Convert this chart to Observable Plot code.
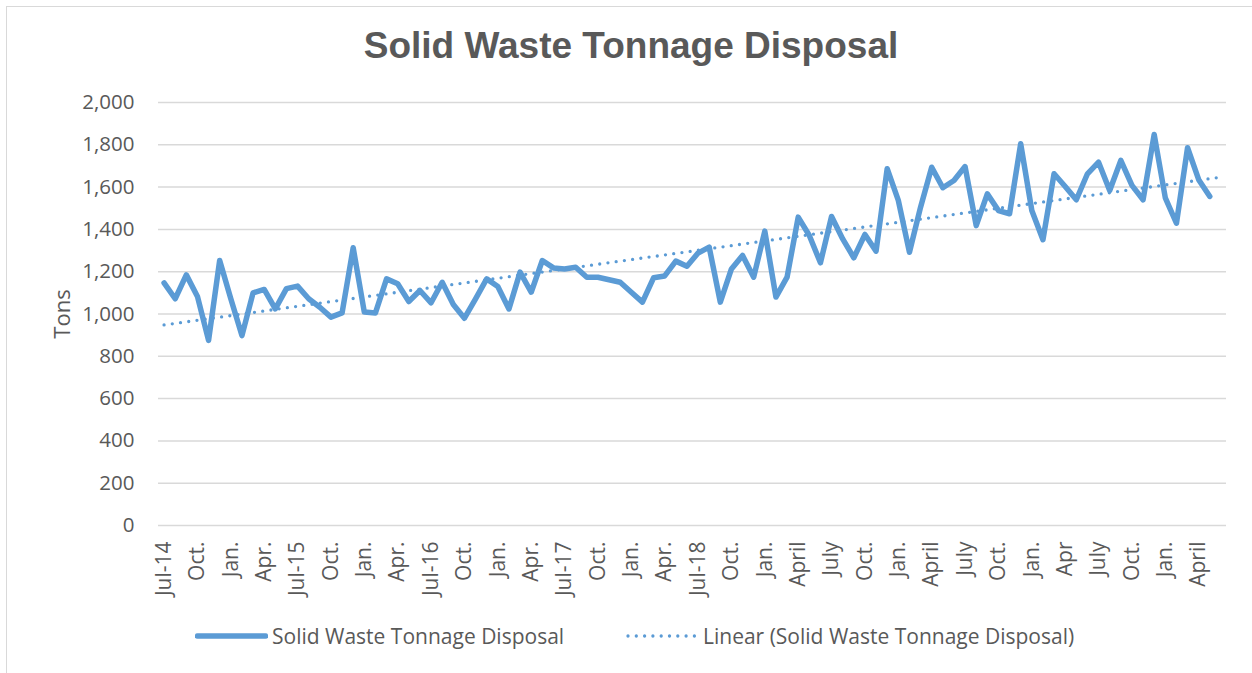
<!DOCTYPE html>
<html>
<head>
<meta charset="utf-8">
<script src="https://cdn.jsdelivr.net/npm/d3@7"></script>
<script src="https://cdn.jsdelivr.net/npm/@observablehq/plot@0.6"></script>
<style>
  html, body { margin: 0; padding: 0; background: #fff; }
  #wrap { position: relative; width: 1252px; height: 673px; overflow: hidden; font-family: "Open Sans", sans-serif; }
  #frame { position: absolute; left: 6px; top: 6px; width: 1300px; height: 700px; border-left: 1.5px solid #d9d9d9; border-top: 1.5px solid #d9d9d9; }
  #title { position: absolute; left: 0; width: 1262px; top: 25px; text-align: center; font-family: "Liberation Sans", Arial, sans-serif; font-weight: bold; font-size: 37px; color: #595959; }
  #chart { position: absolute; left: 0; top: 80px; }
  #legend { position: absolute; top: 621px; left: 0; width: 1252px; height: 30px; font-size: 21px; color: #595959; }
  .item { position: absolute; top: 0; display: flex; align-items: center; height: 30px; }
  .item svg { margin-right: 4px; }
</style>
</head>
<body>
<div id="wrap">
  <div id="frame"></div>
  <div id="title"></div>
  <div id="chart"></div>
  <div id="legend"></div>
</div>
<script>
const title = "Solid Waste Tonnage Disposal";
const seriesName = "Solid Waste Tonnage Disposal";
const trendName = "Linear (Solid Waste Tonnage Disposal)";
const yTitle = "Tons";

// 96 monthly categories, Jul-14 .. Jun-22 (last one has no value)
const categoryCount = 96;
// tick labels, one every third month starting at Jul-14
const tickLabels = ["Jul-14","Oct.","Jan.","Apr.","Jul-15","Oct.","Jan.","Apr.","Jul-16","Oct.","Jan.","Apr.",
  "Jul-17","Oct.","Jan.","Apr.","Jul-18","Oct.","Jan.","April","July","Oct.","Jan.","April",
  "July","Oct.","Jan.","Apr","July","Oct.","Jan.","April"];
// monthly tonnage, Jul-14 .. May-22
const tons = [1147,1072,1185,1083,875,1253,1072,898,1100,1116,1024,1120,
  1132,1072,1032,985,1005,1313,1009,1005,1166,1143,1059,1111,
  1053,1150,1045,980,1072,1166,1130,1024,1198,1103,1253,1218,
  1213,1221,1174,1174,1162,1150,1103,1056,1171,1180,1250,1226,
  1288,1316,1056,1213,1277,1174,1392,1080,1174,1458,1371,1242,
  1461,1355,1266,1376,1297,1687,1537,1292,1505,1694,1597,1631,
  1697,1418,1568,1489,1474,1805,1489,1351,1663,1603,1540,1663,
  1718,1584,1726,1608,1540,1849,1549,1429,1786,1635,1556];
const yTicks = [0,200,400,600,800,1000,1200,1400,1600,1800,2000];

const color = "#5B9BD5";
const textColor = "#595959";
const gridColor = "#d9d9d9";

document.getElementById("title").textContent = title;

const data = tons.map((v, i) => ({i, v}));
const tickIdx = tickLabels.map((_, k) => k * 3);

// least-squares linear trend, drawn across the whole category range
const mx = d3.mean(data, d => d.i), my = d3.mean(data, d => d.v);
const slope = d3.sum(data, d => (d.i - mx) * (d.v - my)) / d3.sum(data, d => (d.i - mx) ** 2);
const intercept = my - slope * mx;
const trend = [0, categoryCount - 1].map(i => ({i, v: intercept + slope * i}));

const chart = Plot.plot({
  width: 1252,
  height: 535,
  marginLeft: 158,
  marginRight: 26,
  marginTop: 22,
  marginBottom: 90,
  style: {fontFamily: "'Open Sans', sans-serif", fontSize: "20px", color: textColor, background: "transparent"},
  x: {domain: [-0.5, categoryCount - 0.5]},
  y: {domain: [0, 2000]},
  marks: [
    Plot.gridY(yTicks, {stroke: gridColor, strokeOpacity: 1, strokeWidth: 1.5}),
    Plot.axisY(yTicks, {tickSize: 0, tickPadding: 24, tickFormat: d3.format(","), fill: textColor, fontSize: 20.5, label: null}),
    Plot.axisY({ticks: [], tickSize: 0, label: yTitle, labelAnchor: "center", labelArrow: "none", labelOffset: 104, fill: textColor, fontSize: 22}),
    Plot.axisX(tickIdx, {tickSize: 0, tickPadding: 16, tickRotate: -90, tickFormat: d => tickLabels[d / 3], fill: textColor, fontSize: 21, label: null}),
    Plot.line(data, {x: "i", y: "v", stroke: color, strokeWidth: 5.5, strokeLinejoin: "round", strokeLinecap: "round"}),
    Plot.line(trend, {x: "i", y: "v", stroke: color, strokeWidth: 3.3, strokeDasharray: "0 8.3", strokeLinecap: "round"})
  ]
});
document.getElementById("chart").appendChild(chart);

// legend
const legend = document.getElementById("legend");
function addItem(left, name, dashed) {
  const div = document.createElement("div");
  div.className = "item";
  div.style.left = left + "px";
  const sw = d3.create("svg").attr("width", 73).attr("height", 12);
  sw.append("line").attr("x1", dashed ? 2 : 2.5).attr("x2", dashed ? 70 : 70.5).attr("y1", 6).attr("y2", 6)
    .attr("stroke", color).attr("stroke-width", dashed ? 3.3 : 5.5).attr("stroke-linecap", "round")
    .attr("stroke-dasharray", dashed ? "0 8.3" : null);
  div.appendChild(sw.node());
  const span = document.createElement("span");
  span.textContent = name;
  div.appendChild(span);
  legend.appendChild(div);
}
addItem(195, seriesName, false);
addItem(626, trendName, true);
</script>
</body>
</html>
